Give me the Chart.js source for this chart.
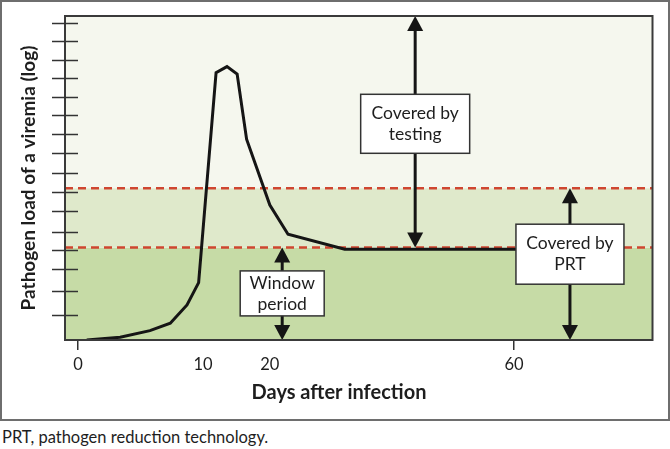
<!DOCTYPE html>
<html>
<head>
<meta charset="utf-8">
<title>Pathogen load after infection</title>
<script src="https://cdn.jsdelivr.net/npm/chart.js@4.4.1/dist/chart.umd.min.js"></script>
<style>
  body { margin: 0; background: #fff; font-family: Lato, sans-serif; }
  #frame { position: absolute; left: 0; top: 0; width: 670px; height: 421px; box-sizing: border-box; border: 2px solid #6e6e6e; }
  #chart { display: block; }
  #caption { position: absolute; left: 2px; top: 427px; font-size: 16.5px; color: #1e1e1e; }
</style>
</head>
<body>
<div id="frame"><canvas id="chart" width="666" height="417"></canvas></div>
<div id="caption">PRT, pathogen reduction technology.</div>
<script>
// ==================================================
// DATA
// ==================================================
// viremia curve (days after infection, log load in schematic units)
const days = [1.2, 5.8, 9.9, 12.7, 15.0, 16.6, 19.0, 20.5, 21.9, 23.2, 26.4, 28.9, 36.7, 60.8];
const load = [0.0, 0.14, 0.47, 0.84, 1.75, 2.87, 13.37, 13.67, 13.3, 10.04, 6.75, 5.29, 4.54, 4.54];

// detection thresholds (red dashed lines)
const testingLevel = 4.62;
const prtLevel = 7.59;

// axes
const xMin = -1.79;
const xMax = 79.06;
const yMin = 0;
const yMax = 16.2;
const xTickPos = [0, 17.2, 26.4, 60];
const xTickText = ["0", "10", "20", "60"];
const xTickHasMark = [true, false, false, true];
const yTickValues = [1.27, 2.47, 3.54, 4.5, 5.42, 6.45, 7.42, 8.37, 9.34, 10.3, 11.25, 12.17, 13.1, 14.0, 14.94, 15.84];

// arrows with their labels
const arrowDay = [46.4, 28.1, 67.7];
const arrowTop = [yMax, testingLevel, prtLevel];
const arrowBottom = [testingLevel, yMin, yMin];
const boxLevel = [10.81, 2.33, 4.29];
const boxText = [["Covered by", "testing"], ["Window", "period"], ["Covered by", "PRT"]];

// ==================================================
// STYLE
// ==================================================
const bandEdges = [yMin, testingLevel, prtLevel, yMax];
const bandColors = ["#c6dba6", "#dfe9cb", "#f5f7ee"];
const boxSize = [[109, 59], [84, 45], [108, 60]];
const ink = "#151515";

// ==================================================
// DRAWING HELPERS
// ==================================================
function drawArrow(ctx, px, top, bottom) {
  const head = 15;
  const half = 8;
  ctx.strokeStyle = ink;
  ctx.fillStyle = ink;
  ctx.lineWidth = 3;
  ctx.beginPath();
  ctx.moveTo(px, top + head - 1);
  ctx.lineTo(px, bottom - head + 1);
  ctx.stroke();
  // up head
  ctx.beginPath();
  ctx.moveTo(px, top);
  ctx.lineTo(px - half, top + head);
  ctx.lineTo(px + half, top + head);
  ctx.closePath();
  ctx.fill();
  // down head
  ctx.beginPath();
  ctx.moveTo(px, bottom);
  ctx.lineTo(px - half, bottom - head);
  ctx.lineTo(px + half, bottom - head);
  ctx.closePath();
  ctx.fill();
}

function drawBox(ctx, cx, cy, size, lines) {
  const [w, h] = size;
  ctx.fillStyle = "#fff";
  ctx.fillRect(cx - w / 2, cy - h / 2, w, h);
  ctx.strokeStyle = "#333";
  ctx.lineWidth = 1.5;
  ctx.strokeRect(cx - w / 2, cy - h / 2, w, h);
  ctx.fillStyle = "#1e1e1e";
  ctx.font = "17.5px Lato";
  ctx.textAlign = "center";
  ctx.textBaseline = "middle";
  const step = 21;
  lines.forEach((line, i) => {
    ctx.fillText(line, cx, cy + (i - (lines.length - 1) / 2) * step);
  });
}

const overlay = {
  id: "overlay",
  beforeDatasetsDraw(chart) {
    const { ctx, chartArea: a, scales } = chart;
    const y = scales.y;
    ctx.save();
    for (let i = 0; i < bandColors.length; i++) {
      const top = y.getPixelForValue(bandEdges[i + 1]);
      const bottom = y.getPixelForValue(bandEdges[i]);
      ctx.fillStyle = bandColors[i];
      ctx.fillRect(a.left, top, a.right - a.left, bottom - top);
    }
    ctx.restore();
  },
  afterDatasetsDraw(chart) {
    const { ctx, chartArea: a, scales } = chart;
    const { x, y } = scales;
    ctx.save();

    // arrows and labels
    arrowDay.forEach((d, i) => {
      const px = x.getPixelForValue(d);
      drawArrow(ctx, px, y.getPixelForValue(arrowTop[i]), y.getPixelForValue(arrowBottom[i]));
      drawBox(ctx, px, y.getPixelForValue(boxLevel[i]), boxSize[i], boxText[i]);
    });

    // plot frame
    ctx.strokeStyle = "#3a3a3a";
    ctx.lineWidth = 2;
    ctx.strokeRect(a.left, a.top, a.right - a.left, a.bottom - a.top);

    // y tick marks cross the axis
    ctx.lineWidth = 1.5;
    ctx.strokeStyle = "#333";
    yTickValues.forEach((v) => {
      const py = Math.round(y.getPixelForValue(v)) + 0.5;
      ctx.beginPath();
      ctx.moveTo(a.left - 13, py);
      ctx.lineTo(a.left + 13, py);
      ctx.stroke();
    });

    // axis titles
    ctx.fillStyle = "#1e1e1e";
    ctx.textAlign = "center";
    ctx.textBaseline = "middle";
    ctx.font = "bold 20px Lato";
    ctx.fillText("Days after infection", 337, 391);
    ctx.font = "bold 19px Lato";
    ctx.translate(27, (a.top + a.bottom) / 2);
    ctx.rotate(-Math.PI / 2);
    ctx.fillText("Pathogen load of a viremia (log)", 0, 0);
    ctx.restore();
  },
};

// ==================================================
// CHART
// ==================================================
const ctx = document.getElementById("chart").getContext("2d");

new Chart(ctx, {
  type: "line",
  data: {
    datasets: [
      {
        data: days.map((d, i) => ({ x: d, y: load[i] })),
        borderColor: ink,
        borderWidth: 3,
        pointRadius: 0,
        tension: 0,
        fill: false,
        order: 0,
      },
      {
        data: [{ x: xMin, y: prtLevel }, { x: xMax, y: prtLevel }],
        borderColor: "#cf4630",
        borderWidth: 2.5,
        borderDash: [8, 5],
        pointRadius: 0,
        order: 1,
      },
      {
        data: [{ x: xMin, y: testingLevel }, { x: xMax, y: testingLevel }],
        borderColor: "#cf4630",
        borderWidth: 2.5,
        borderDash: [8, 5],
        pointRadius: 0,
        order: 1,
      },
    ],
  },
  options: {
    responsive: false,
    animation: false,
    devicePixelRatio: 1,
    layout: { padding: { top: 14, right: 15.5, left: 0, bottom: 0 } },
    plugins: { legend: { display: false }, tooltip: { enabled: false } },
    scales: {
      x: {
        type: "linear",
        min: xMin,
        max: xMax,
        afterBuildTicks: (s) => {
          s.ticks = xTickPos.map((v) => ({ value: v }));
        },
        afterFit: (s) => {
          s.height = 79;
        },
        ticks: {
          callback: (v, i) => xTickText[i],
          font: { family: "Lato", size: 16.5 },
          color: "#1e1e1e",
          padding: 5,
          maxRotation: 0,
          autoSkip: false,
        },
        grid: {
          drawOnChartArea: false,
          tickLength: 10,
          lineWidth: 1.5,
          color: (c) => (xTickHasMark[c.index] ? "#333" : "rgba(0,0,0,0)"),
          tickColor: (c) => (xTickHasMark[c.index] ? "#333" : "rgba(0,0,0,0)"),
        },
        border: { display: false },
      },
      y: {
        min: yMin,
        max: yMax,
        afterFit: (s) => {
          s.width = 63;
        },
        ticks: { display: false },
        grid: { display: false },
        border: { display: false },
      },
    },
  },
  plugins: [overlay],
});
</script>
</body>
</html>
